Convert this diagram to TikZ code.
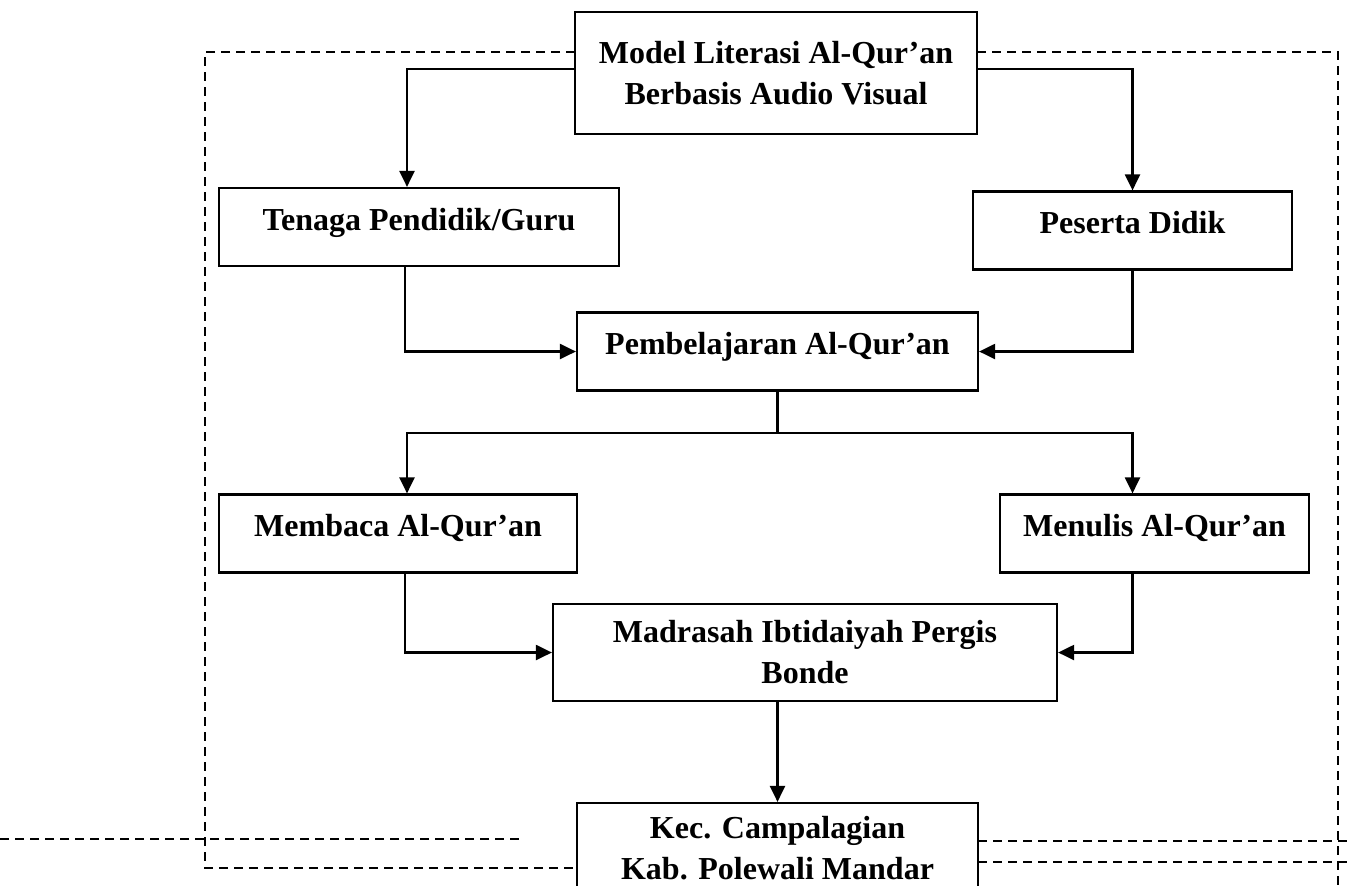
\documentclass[tikz,border=0pt]{standalone}
\usepackage{fontspec}
\setmainfont{Liberation Serif}
\usetikzlibrary{arrows.meta}

\begin{document}
\begin{tikzpicture}[x=0.5pt, y=-0.5pt,
  every node/.style={font=\fontsize{16pt}{20.5pt}\selectfont\bfseries},
  box/.style={draw, line width=1.1pt, inner sep=0pt, text height=21pt, text depth=18pt},
  boxtwo/.style={draw, line width=1.1pt, align=center, inner sep=0pt},
  arr/.style={line width=1.1pt, -{Triangle[length=8pt,width=7.5pt]}},
  link/.style={line width=1.1pt},
  frame/.style={line width=1.1pt, dash pattern=on 4.5pt off 3pt}]
\useasboundingbox (0,0) rectangle (1348,885);
\clip (0,0) rectangle (1348,885);
% Boxes, top to bottom
\node[boxtwo, minimum width=201pt, minimum height=61pt] (model) at (776,73) {Model Literasi Al-Qur’an\\Berbasis Audio Visual};
\node[box, minimum width=200pt] (tenaga) at (419,227) {Tenaga Pendidik/Guru};
\node[box, minimum width=159.5pt] (peserta) at (1132.5,230.5) {Peserta Didik};
\node[box, minimum width=200.5pt] (pemb) at (777.5,351.5) {Pembelajaran Al-Qur’an};
\node[box, minimum width=179pt] (membaca) at (398,533.5) {Membaca Al-Qur’an};
\node[box, minimum width=154.5pt] (menulis) at (1154.5,533.5) {Menulis Al-Qur’an};
\node[boxtwo, minimum width=252pt, minimum height=48.5pt] (madrasah) at (805,652.5) {Madrasah Ibtidaiyah Pergis\\Bonde};
\node[boxtwo, minimum width=200.5pt, minimum height=45pt] (kec) at (777.5,848) {Kec. Campalagian\\Kab. Polewali Mandar};
% Model -> Guru / Peserta
\draw[arr] ([yshift=2pt]model.west) -| ([xshift=-6pt]tenaga.north);
\draw[arr] ([yshift=2pt]model.east) -| (peserta.north);
% into Pembelajaran
\draw[arr] ([xshift=-7pt]tenaga.south) |- (pemb.west);
\draw[arr] (peserta.south) |- (pemb.east);
% split to Membaca / Menulis
\draw[link] (pemb.south) -- ++(0,41) coordinate (split);
\draw[arr] (split) -| ([xshift=4.5pt]membaca.north);
\draw[arr] (split) -| ([xshift=-11pt]menulis.north);
% into Madrasah, then Kec
\draw[arr] ([xshift=3.5pt]membaca.south) |- (madrasah.west);
\draw[arr] ([xshift=-11pt]menulis.south) |- (madrasah.east);
\draw[arr] (madrasah.south -| kec.north) -- (kec.north);
% dashed frame
\draw[frame] (575,52) -- (205,52) -- (205,868) -- (577,868);
\draw[frame] (977,52) -- (1338,52) -- (1338,885);
\draw[frame] (0,839) -- (520,839);
\draw[frame] (978,841) -- (1348,841);
\draw[frame] (978,862) -- (1348,862);
\end{tikzpicture}
\end{document}
